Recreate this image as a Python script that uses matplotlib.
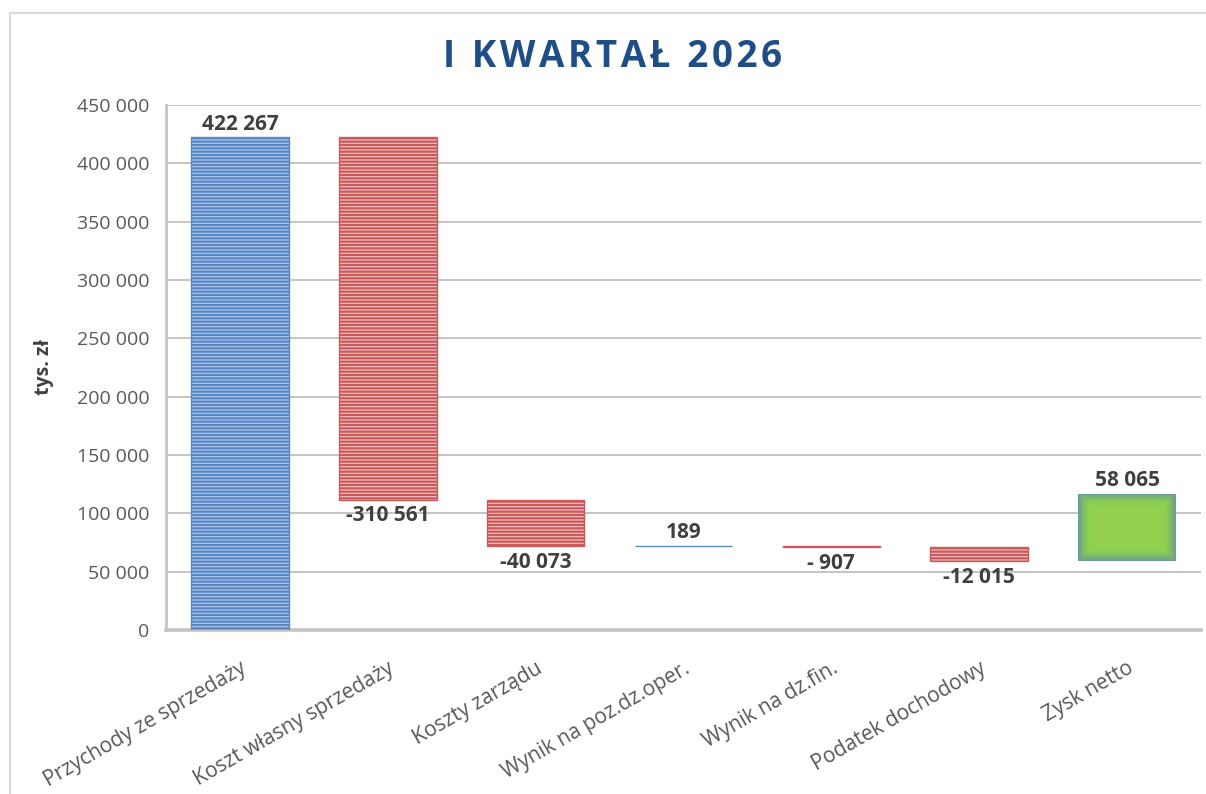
"""
Waterfall chart: I kwartał 2026 (tys. zł).
Saves: out.png
"""
import matplotlib
matplotlib.use("Agg")
import matplotlib.pyplot as plt
import matplotlib.patches as mpatches
from matplotlib.colors import LinearSegmentedColormap
from matplotlib.ticker import FuncFormatter
import numpy as np

# ── Data ──────────────────────────────────────────────────────────────────────
categories = [
    "Przychody ze sprzedaży",
    "Koszt własny sprzedaży",
    "Koszty zarządu",
    "Wynik na poz.dz.oper.",
    "Wynik na dz.fin.",
    "Podatek dochodowy",
    "Zysk netto",
]
values = [422267, -310561, -40073, 189, -907, -12015, 58065]
value_labels = ["422 267", "-310 561", "-40 073", "189", "- 907", "-12 015", "58 065"]
kinds = ["income", "cost", "cost", "income", "cost", "cost", "total"]
yticks = [0, 50000, 100000, 150000, 200000, 250000, 300000, 350000, 400000, 450000]
title = "I KWARTAŁ 2026"

# ── Palette ───────────────────────────────────────────────────────────────────
TITLE   = "#1F4E86"
TEXT    = "#595959"
LABEL   = "#404040"
GRID    = "#c4c4c4"
FRAME   = "#d9d9d9"
STYLE = {
    "income": dict(face="#b3cdee", hatch_col="#5a86c4"),
    "cost":   dict(face="#f2c6c6", hatch_col="#c9595a"),
}
# green "glow" fill: bluish-grey rim fading into bright green
GREEN_CMAP = LinearSegmentedColormap.from_list(
    "glow", ["#6a9d96", "#7dbb6a", "#8dcf50", "#92d050"])

plt.rcParams["font.family"] = ["Open Sans", "DejaVu Sans"]
plt.rcParams["hatch.linewidth"] = 1.6

fig = plt.figure(figsize=(12.06, 7.94), dpi=100, facecolor="white")
ax = fig.add_axes([166 / 1206, 1 - 630 / 794, (1201 - 166) / 1206, (630 - 105) / 794])

# outer chart frame
fig.patches.append(mpatches.Rectangle((10 / 1206, -0.02), 1.05, 1 - 13 / 794 + 0.02,
                                      transform=fig.transFigure, fill=False,
                                      edgecolor=FRAME, lw=1.5, zorder=0))

# ── Waterfall ─────────────────────────────────────────────────────────────────
x = np.arange(len(categories))
running = 0.0
for i, (v, kind, lab) in enumerate(zip(values, kinds, value_labels)):
    if kind == "total":
        bottom, top = running, running + v
        bars = ax.bar(i, v, bottom=bottom, width=0.66, color="#92d050",
                      linewidth=0, zorder=3)
        p = bars[0]
        # edge-distance gradient clipped to the bar
        gx, gy = np.meshgrid(np.linspace(0, 1, 120), np.linspace(0, 1, 80))
        d = np.minimum(np.minimum(gx, 1 - gx) * 2.2, np.minimum(gy, 1 - gy) * 1.6)
        img = ax.imshow(np.clip(d * 3.0, 0, 1), cmap=GREEN_CMAP, aspect="auto",
                        extent=(p.get_x(), p.get_x() + p.get_width(),
                                p.get_y(), p.get_y() + p.get_height()),
                        interpolation="bilinear", zorder=3.5)
        img.set_clip_path(p)
    else:
        start = running
        running += v
        bottom, top = min(start, running), max(start, running)
        st = STYLE[kind]
        ax.bar(i, top - bottom, bottom=bottom, width=0.66, color=st["face"],
               edgecolor=st["hatch_col"], hatch="-----", linewidth=1.0, zorder=3)
    if v >= 0:
        ax.annotate(lab, (i, top), xytext=(0, 2), textcoords="offset points",
                    ha="center", va="bottom", fontsize=15, fontweight="bold",
                    color=LABEL, zorder=5)
    else:
        ax.annotate(lab, (i, bottom), xytext=(0, -4), textcoords="offset points",
                    ha="center", va="top", fontsize=15, fontweight="bold",
                    color=LABEL, zorder=5)

# ── Axes styling ──────────────────────────────────────────────────────────────
ax.set_xlim(-0.5, len(categories) - 0.5)
ax.set_ylim(0, 450000)
ax.set_yticks(yticks)
ax.yaxis.set_major_formatter(FuncFormatter(lambda v, _: f"{int(v):,}".replace(",", " ")))
ax.grid(axis="y", color=GRID, linewidth=1.4, zorder=0)
ax.set_axisbelow(True)
for side in ("top", "right"):
    ax.spines[side].set_visible(False)
ax.spines["left"].set_color(GRID)
ax.spines["left"].set_linewidth(2.0)
ax.spines["bottom"].set_color(GRID)
ax.spines["bottom"].set_linewidth(2.6)
ax.tick_params(axis="both", length=0, colors=TEXT, labelsize=14)
ax.tick_params(axis="y", pad=12)

ax.set_xticks(x)
ax.set_xticklabels(categories, rotation=30, ha="right", rotation_mode="anchor",
                   fontsize=15, color=TEXT)
ax.tick_params(axis="x", pad=20)

ax.set_ylabel("tys. zł", fontsize=14, fontweight="bold", color=LABEL, labelpad=16)

# letter-spaced title (hair spaces between glyphs)
fig.text(0.508, 0.928, "\u200a".join(title), ha="center", va="center",
         fontsize=26.5, fontweight="bold", color=TITLE)

fig.savefig("out.png", dpi=100, facecolor="white")
